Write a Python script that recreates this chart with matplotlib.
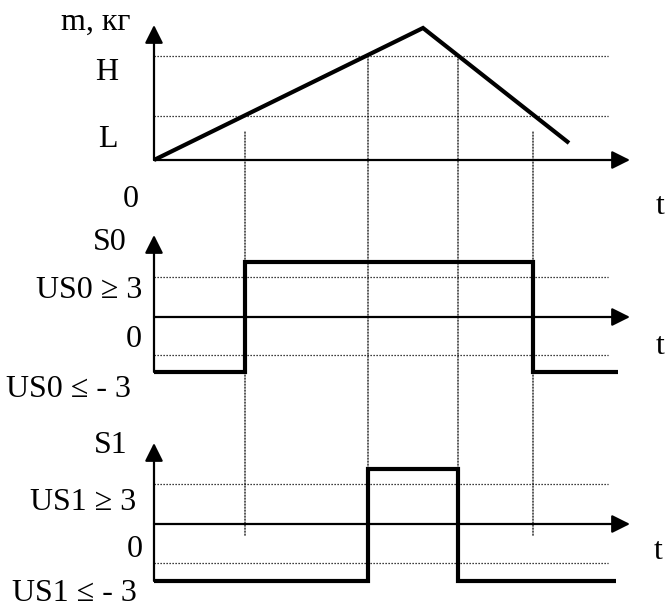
import matplotlib
matplotlib.use("Agg")
import matplotlib.pyplot as plt
from matplotlib.patches import ConnectionPatch

plt.rcParams['font.family'] = ['Liberation Serif', 'DejaVu Serif']

# ---- data (time in arbitrary units) ----
t_mass = [0, 26.9, 41.5]
m_values = [0, 13.2, 1.7]
L_level = 4.4
H_level = 10.4
t_switch = [9.1, 21.4, 30.4, 37.9]

s0_t = [0, 9.1, 37.9, 46.4]
s0_v = [-5.5, 5.5, -5.5, -5.5]
s0_thr = [4.0, -3.8]

s1_t = [0, 21.4, 30.4, 46.2]
s1_v = [-5.7, 5.5, -5.7, -5.7]
s1_thr = [4.0, -3.9]

t_axis_end = 47.6
t_dot_end = 45.4

W, H = 665, 607
fig = plt.figure(figsize=(W / 100, H / 100), dpi=100)


def make_ax(top_px, bot_px, y0_px):
    ax = fig.add_axes([0, 1 - bot_px / H, 1, (bot_px - top_px) / H])
    ax.set_xlim(-15.4, 51.1)
    ax.set_ylim((y0_px - bot_px) / 10, (y0_px - top_px) / 10)
    ax.axis('off')
    return ax


ax1 = make_ax(0, 200, 160)
ax2 = make_ax(210, 400, 317)
ax3 = make_ax(410, 607, 524)

dot = dict(color='black', lw=0.9, linestyle=(0, (1, 1.4)))


def arrow(ax, start, tip, lw=1.6):
    ax.annotate('', xy=tip, xytext=start,
                arrowprops=dict(arrowstyle='-|>,head_length=1.1,head_width=0.55',
                                mutation_scale=10, lw=lw, color='black',
                                shrinkA=0, shrinkB=0),
                annotation_clip=False)


# top panel
for lev in (L_level, H_level):
    ax1.plot([0, t_dot_end], [lev, lev], clip_on=False, **dot)
arrow(ax1, (0, 0), (0, 13.5))
arrow(ax1, (0, 0), (t_axis_end, 0))
ax1.plot(t_mass, m_values, color='black', lw=3, clip_on=False,
         solid_capstyle='butt', solid_joinstyle='miter')

# middle panel
for lev in s0_thr:
    ax2.plot([0, t_dot_end], [lev, lev], clip_on=False, **dot)
arrow(ax2, (0, min(s0_v)), (0, 8.2))
arrow(ax2, (0, 0), (t_axis_end, 0))
ax2.step(s0_t, s0_v, where='post', color='black', lw=3, clip_on=False,
         solid_capstyle='butt', solid_joinstyle='miter')

# bottom panel
for lev in s1_thr:
    ax3.plot([0, t_dot_end], [lev, lev], clip_on=False, **dot)
arrow(ax3, (0, min(s1_v)), (0, 8.1))
arrow(ax3, (0, 0), (t_axis_end, 0))
ax3.step(s1_t, s1_v, where='post', color='black', lw=3, clip_on=False,
         solid_capstyle='butt', solid_joinstyle='miter')

# vertical dotted guide lines across panels
v_start = [2.8, H_level, H_level, 2.8]
v_end = [-1.3, 5.5, 5.5, -1.3]
for t, ys, ye in zip(t_switch, v_start, v_end):
    cp = ConnectionPatch(xyA=(t, ys), coordsA=ax1.transData,
                         xyB=(t, ye), coordsB=ax3.transData,
                         color='black', lw=0.9, linestyle=(0, (1, 1.4)))
    fig.add_artist(cp)

FS = 23


def label(x, y, s, ha='center'):
    fig.text(x / W, 1 - y / H, s, ha=ha, va='baseline', fontsize=FS)


label(96, 30, 'm, кг')
label(107, 80, 'H')
label(108, 147, 'L')
label(131, 207, '0')
label(660, 214, 't')
label(127, 250, 'S0', ha='right')
label(142, 298, 'US0 ≥ 3', ha='right')
label(134, 347, '0')
label(131, 397, 'US0 ≤ - 3', ha='right')
label(660, 354, 't')
label(128, 453, 'S1', ha='right')
label(136, 510, 'US1 ≥ 3', ha='right')
label(135, 557, '0')
label(137, 601, 'US1 ≤ - 3', ha='right')
label(658, 559, 't')

fig.savefig('out.png', dpi=100)
